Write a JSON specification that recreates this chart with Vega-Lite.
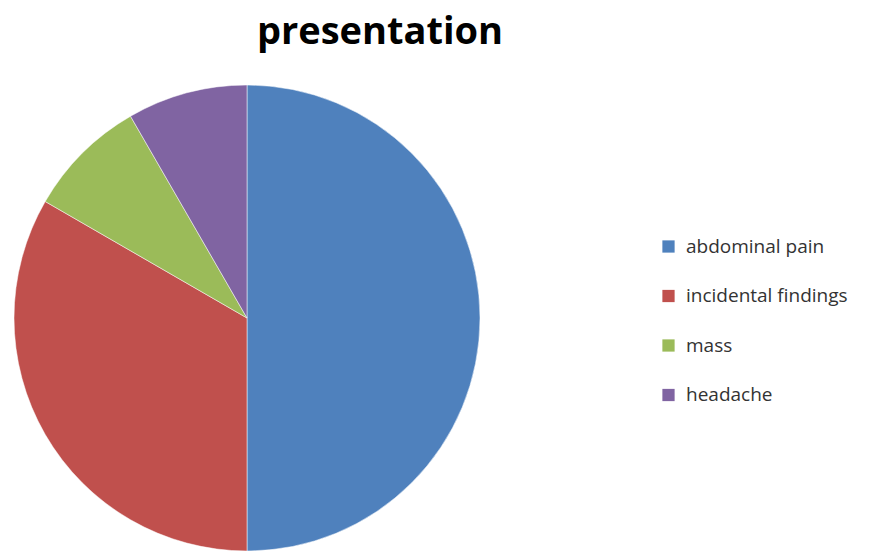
{
  "$schema": "https://vega.github.io/schema/vega-lite/v6.json",
  "autosize": "none",
  "width": 466,
  "height": 466,
  "padding": {"left": 14, "top": 85, "right": 410, "bottom": 0},
  "background": "white",
  "title": {
    "text": "presentation",
    "font": "Open Sans",
    "fontSize": 38,
    "fontWeight": "bold",
    "color": "#000000",
    "anchor": "middle",
    "dx": 133,
    "offset": 32
  },
  "data": {
    "values": [
      {"presentation": "abdominal pain", "count": 6, "rank": 1},
      {"presentation": "incidental findings", "count": 4, "rank": 2},
      {"presentation": "mass", "count": 1, "rank": 3},
      {"presentation": "headache", "count": 1, "rank": 4}
    ]
  },
  "mark": {"type": "arc", "outerRadius": 233, "stroke": "white", "strokeWidth": 0.5},
  "encoding": {
    "theta": {"field": "count", "type": "quantitative", "stack": true},
    "order": {"field": "rank", "type": "quantitative", "sort": "ascending"},
    "color": {
      "field": "presentation",
      "type": "nominal",
      "scale": {
        "domain": ["abdominal pain", "incidental findings", "mass", "headache"],
        "range": ["#4F81BD", "#C0504D", "#9BBB59", "#8064A2"]
      },
      "legend": {
        "title": null,
        "orient": "none",
        "legendX": 645,
        "legendY": 152,
        "padding": 0,
        "symbolType": "square",
        "symbolSize": 150,
        "symbolStrokeWidth": 0,
        "labelFont": "Open Sans",
        "labelFontSize": 19,
        "labelColor": "#333333",
        "labelOffset": 8,
        "labelLimit": 0,
        "rowPadding": 29.5
      }
    }
  },
  "config": {"view": {"stroke": null}}
}
